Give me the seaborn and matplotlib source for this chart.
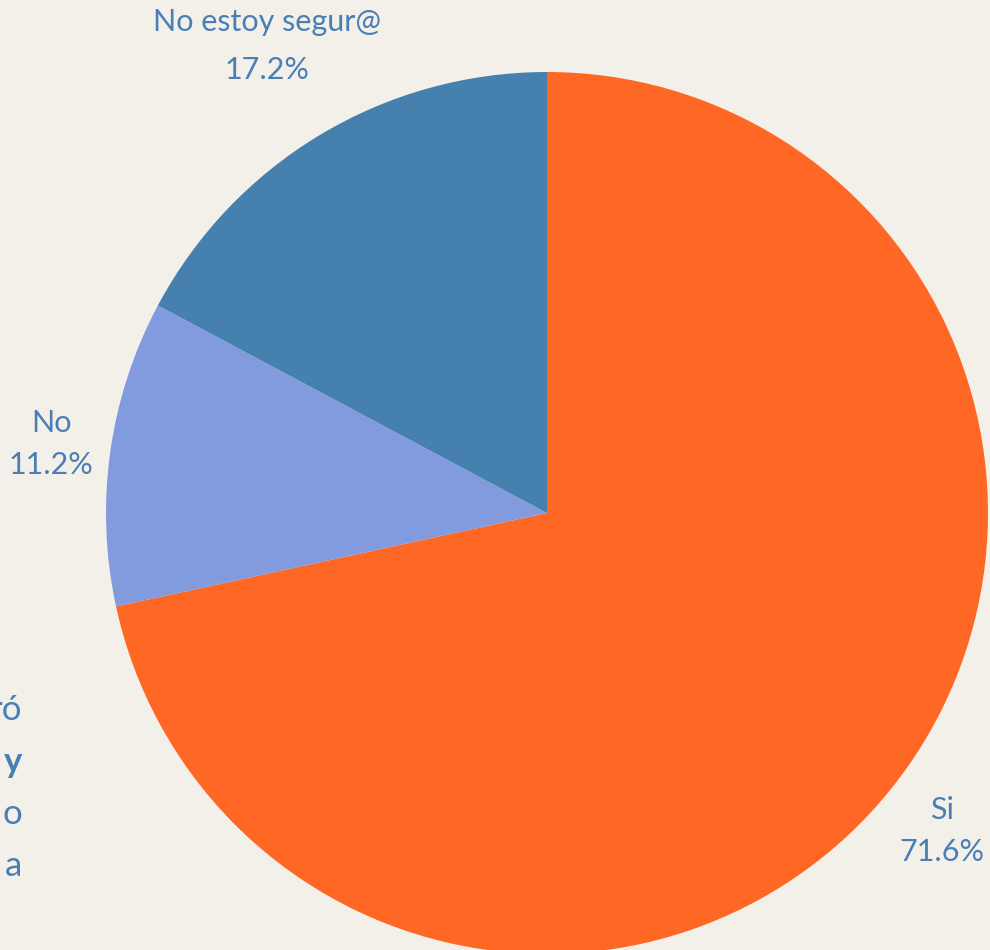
import numpy as np
import seaborn as sns
import matplotlib.pyplot as plt

# chart data
labels = ["Si", "No", "No estoy segur@"]
values = [71.6, 11.2, 17.2]
colors = ["#ff6724", "#829ade", "#4680ae"]
# cut-off side text on the left edge
side_text = ["ró", "y", "o", "a"]
side_bold = [False, True, False, False]

bg = "#f3f0ea"
text_color = "#4a7fb5"

sns.set_theme(style="white")
plt.rcParams['font.family'] = ['Lato', 'DejaVu Sans']

fig = plt.figure(figsize=(9.9, 9.5), dpi=100, facecolor=bg)
# pie centre at (547, 513) px, radius 441 px
ax = fig.add_axes([106 / 990, (950 - 954) / 950, 882 / 990, 882 / 950])
ax.set_facecolor(bg)

wedges, _ = ax.pie(values, colors=colors, startangle=90, counterclock=False,
                   wedgeprops=dict(linewidth=0))
ax.set_xlim(-1, 1)
ax.set_ylim(-1, 1)
ax.set_aspect('equal')
ax.axis('off')

# labels outside the wedges
label_dist = [1.15, 1.135, 1.235]
label_spacing = [1.6, 1.6, 1.9]
for w, lab, val, d, ls in zip(wedges, labels, values, label_dist, label_spacing):
    ang = np.deg2rad((w.theta1 + w.theta2) / 2)
    ax.text(d * np.cos(ang), d * np.sin(ang), f"{lab}\n{val:.1f}%",
            ha='center', va='center', fontsize=22, color=text_color,
            linespacing=ls, clip_on=False)

# text fragments cut by the left edge
for i, (t, b) in enumerate(zip(side_text, side_bold)):
    fig.text(22 / 990, 1 - (710 + 52 * i) / 950, t, ha='right', va='center',
             fontsize=25, color=text_color,
             fontweight='bold' if b else 'normal')

fig.savefig("out.png", dpi=100, facecolor=bg)
